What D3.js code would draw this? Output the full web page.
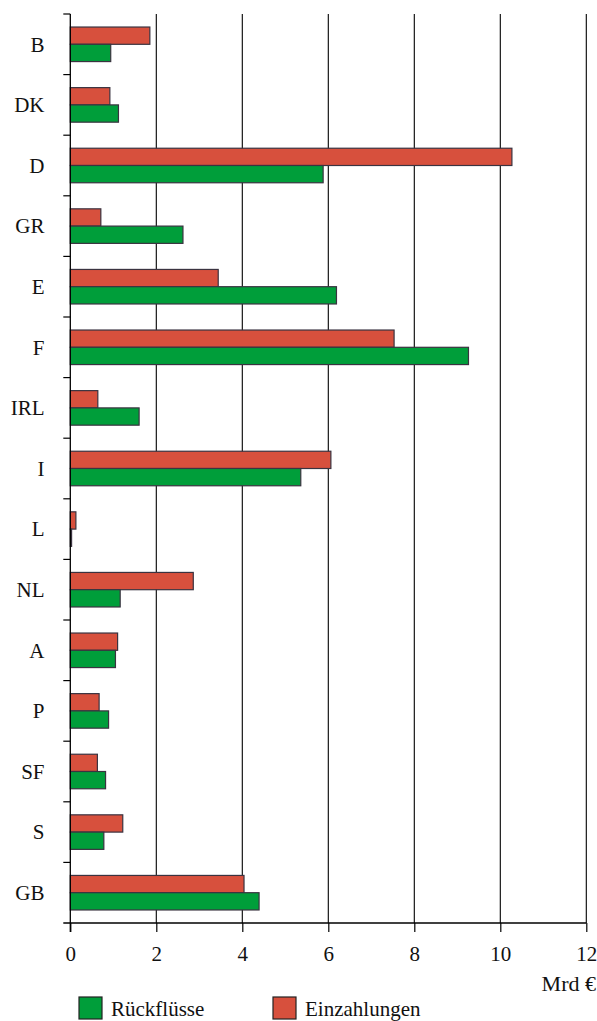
<!DOCTYPE html>
<html>
<head>
<meta charset="utf-8">
<script src="https://cdn.jsdelivr.net/npm/d3@7"></script>
<style>
  html, body { margin: 0; padding: 0; background: #fff; }
  svg { display: block; }
  svg text { font-family: "Liberation Serif", "DejaVu Serif", serif !important; fill: #111; }
</style>
</head>
<body>
<svg id="chart" width="597" height="1021" font-family="Liberation Serif, serif"></svg>
<script>
const categories = ["B","DK","D","GR","E","F","IRL","I","L","NL","A","P","SF","S","GB"];
const einzahlungen = [1.85,0.92,10.27,0.71,3.44,7.53,0.64,6.06,0.13,2.86,1.10,0.67,0.63,1.22,4.04];
const rueckfluesse = [0.94,1.12,5.88,2.62,6.19,9.26,1.60,5.36,0.03,1.16,1.05,0.89,0.82,0.78,4.39];
const xTicks = [0,2,4,6,8,10,12];
const seriesNames = ["Einzahlungen","Rückflüsse"];
const legendNames = ["Rückflüsse","Einzahlungen"];
const unitLabel = "Mrd €";

(function(){
const colors = {"Einzahlungen":"#d7503d","Rückflüsse":"#009e3a"};
const strokeCol = "#3a3340";
const serif = "Liberation Serif";

const svg = d3.select("#chart");
const pLeft = 70.3, pRight = 586.3, pTop = 14, pBottom = 923;

const x = d3.scaleLinear().domain([0,12]).range([pLeft,pRight]);
const y = d3.scaleBand().domain(categories).range([pTop,pBottom]).paddingInner(0.43).paddingOuter(0.215);
const ySub = d3.scaleBand().domain(seriesNames).range([0,y.bandwidth()]);

// gridlines
svg.append("g").selectAll("line").data(xTicks.filter(d=>d>0)).join("line")
  .attr("x1",d=>x(d)).attr("x2",d=>x(d)).attr("y1",pTop).attr("y2",pBottom)
  .attr("stroke","#000").attr("stroke-width",1.1);

// bars
const data = [];
categories.forEach((c,i)=>{
  data.push({cat:c, s:"Einzahlungen", v:einzahlungen[i]});
  data.push({cat:c, s:"Rückflüsse", v:rueckfluesse[i]});
});
svg.append("g").selectAll("rect").data(data).join("rect")
  .attr("x",x(0))
  .attr("y",d=>y(d.cat)+ySub(d.s))
  .attr("width",d=>Math.max(0.5,x(d.v)-x(0)))
  .attr("height",ySub.bandwidth())
  .attr("fill",d=>colors[d.s])
  .attr("stroke",strokeCol).attr("stroke-width",1.2);

// y axis line and category boundary ticks
const bounds = categories.map((c,i)=>pTop+i*y.step());
svg.append("line").attr("x1",pLeft).attr("x2",pLeft).attr("y1",pTop).attr("y2",pBottom+9)
  .attr("stroke","#000").attr("stroke-width",1.3);
svg.append("g").selectAll("line").data(bounds).join("line")
  .attr("x1",pLeft-7).attr("x2",pLeft).attr("y1",d=>d).attr("y2",d=>d)
  .attr("stroke","#000").attr("stroke-width",1.2);

// category labels
svg.append("g").selectAll("text").data(categories).join("text")
  .attr("x",44.5).attr("y",d=>y(d)+y.bandwidth()/2)
  .attr("dy","0.35em").attr("text-anchor","end")
  .attr("font-family",serif).attr("font-size",21).text(d=>d);

// x axis
const xAxis = d3.axisBottom(x).tickValues(xTicks).tickSize(9).tickPadding(14).tickFormat(d3.format("d"));
const gx = svg.append("g").attr("transform",`translate(0,${pBottom})`).call(xAxis);
gx.attr("font-family",serif);
gx.select(".domain").remove();
gx.selectAll(".tick line").attr("stroke","#000").attr("stroke-width",1.2);
gx.selectAll(".tick text").attr("font-size",21).attr("font-family",serif).attr("fill","#111");
svg.append("line").attr("x1",pLeft-7).attr("x2",pRight).attr("y1",pBottom).attr("y2",pBottom)
  .attr("stroke","#000").attr("stroke-width",1.3);

svg.append("text").attr("x",596).attr("y",991).attr("text-anchor","end")
  .attr("font-family",serif).attr("font-size",22).text(unitLabel);

// legend
const legX = [79, 273];
const lg = svg.append("g").selectAll("g").data(legendNames).join("g")
  .attr("transform",(d,i)=>`translate(${legX[i]},997)`);
lg.append("rect").attr("width",23).attr("height",22)
  .attr("fill",d=>colors[d]).attr("stroke","#222").attr("stroke-width",1.2);
lg.append("text").attr("x",32).attr("y",19).attr("font-family",serif).attr("font-size",21).text(d=>d);
})();
</script>
</body>
</html>
